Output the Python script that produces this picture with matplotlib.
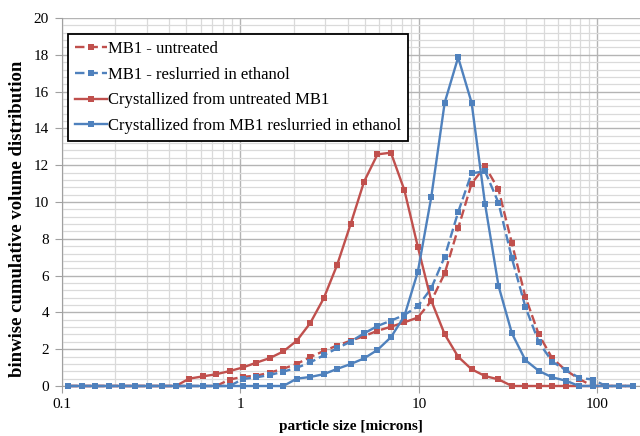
import numpy as np
import matplotlib
matplotlib.use("Agg")
import matplotlib.pyplot as plt
from matplotlib.ticker import MultipleLocator, LogLocator, FuncFormatter, NullFormatter

# Size classes: quarter-octave bins, plotted at the bin centre (microns)
size_um = [0.1 * 2 ** ((2 * k + 1) / 8) for k in range(43)]

mb1_untreated = [0, 0, 0, 0, 0, 0, 0, 0, 0, 0, 0, 0,
                 0.35, 0.50, 0.56, 0.73, 0.94, 1.20, 1.57, 1.90, 2.20, 2.46,
                 2.71, 3.00, 3.22, 3.46, 3.72, 4.62, 6.12, 8.57, 11.00, 11.94,
                 10.69, 7.75, 4.85, 2.80, 1.50, 0.86, 0.38, 0, 0, 0, 0]

mb1_reslurried = [0, 0, 0, 0, 0, 0, 0, 0, 0, 0, 0, 0, 0,
                  0.38, 0.47, 0.60, 0.78, 0.99, 1.28, 1.67, 2.05, 2.41,
                  2.86, 3.26, 3.55, 3.86, 4.33, 5.31, 7.03, 9.45, 11.56, 11.67,
                  9.96, 6.94, 4.30, 2.38, 1.32, 0.87, 0.45, 0.35, 0, 0, 0]

cryst_untreated = [0, 0, 0, 0, 0, 0, 0, 0, 0,
                   0.40, 0.52, 0.64, 0.81, 1.01, 1.27, 1.52, 1.88, 2.46, 3.42,
                   4.76, 6.58, 8.79, 11.10, 12.59, 12.68, 10.65, 7.57, 4.64, 2.81,
                   1.59, 0.91, 0.54, 0.36, 0, 0, 0, 0, 0, 0, 0, 0, 0, 0]

cryst_reslurried = [0, 0, 0, 0, 0, 0, 0, 0, 0, 0, 0, 0, 0, 0, 0, 0, 0,
                    0.40, 0.49, 0.64, 0.93, 1.19, 1.50, 1.96, 2.65, 3.80, 6.20,
                    10.26, 15.40, 17.86, 15.40, 9.90, 5.45, 2.86, 1.41, 0.82,
                    0.47, 0.29, 0, 0, 0, 0, 0]

series_labels = ["MB1 - untreated",
                 "MB1 - reslurried in ethanol",
                 "Crystallized from untreated MB1",
                 "Crystallized from MB1 reslurried in ethanol"]

RED = "#C0504D"
BLUE = "#4F81BD"

plt.rcParams["font.family"] = ["Liberation Serif", "DejaVu Serif"]

fig = plt.figure(figsize=(6.4, 4.36), dpi=100)
ax = fig.add_axes([0.0961, 0.1147, 0.9039, 0.8440])

dash = (0, (4.0, 1.7))
styles = [
    (mb1_untreated, RED, dash),
    (mb1_reslurried, BLUE, dash),
    (cryst_untreated, RED, "-"),
    (cryst_reslurried, BLUE, "-"),
]
for (vals, col, ls), lab in zip(styles, series_labels):
    ax.plot(size_um, vals, color=col, linestyle=ls, linewidth=1.7,
            marker="s", markersize=4.2, markeredgewidth=0, label=lab,
            zorder=3, clip_on=False)

ax.set_xscale("log")
ax.set_xlim(0.1, 173)
ax.set_ylim(0, 20)

ax.yaxis.set_major_locator(MultipleLocator(2))
ax.yaxis.set_minor_locator(MultipleLocator(0.4))
ax.xaxis.set_major_locator(LogLocator(base=10))
ax.xaxis.set_minor_locator(LogLocator(base=10, subs=np.arange(2, 10)))
ax.xaxis.set_major_formatter(FuncFormatter(lambda v, p: f"{v:g}"))
ax.xaxis.set_minor_formatter(NullFormatter())

ax.grid(which="major", color="#b4b4b4", linewidth=1.0, zorder=0)
ax.grid(which="minor", color="#dadada", linewidth=0.9, zorder=0)
ax.set_axisbelow(True)

for s in ["top", "right"]:
    ax.spines[s].set_visible(False)
ax.spines["left"].set_color("#a0a0a0")
ax.spines["bottom"].set_color("#a0a0a0")
ax.tick_params(which="major", axis="y", length=5, color="#a0a0a0",
               labelsize=11, pad=4)
ax.tick_params(which="major", axis="x", length=5, color="#a0a0a0",
               labelsize=11, pad=4)
ax.tick_params(which="minor", length=0)

ax.set_xlabel("particle size [microns]", fontsize=11, fontweight="bold",
              labelpad=6)
ax.set_ylabel("binwise cumulative volume distribution", fontsize=13.5,
              fontweight="bold")
ax.yaxis.set_label_coords(-0.062, 0.454)

leg = ax.legend(loc="upper left", bbox_to_anchor=(0.011, 0.9565),
                fontsize=12, frameon=True, fancybox=False,
                handlelength=1.9, handletextpad=0.1, labelspacing=0.58,
                borderpad=0.42, borderaxespad=0)
leg.get_frame().set_edgecolor("black")
leg.get_frame().set_linewidth(1.3)
leg.get_frame().set_alpha(1)

fig.savefig("out.png", dpi=100)
